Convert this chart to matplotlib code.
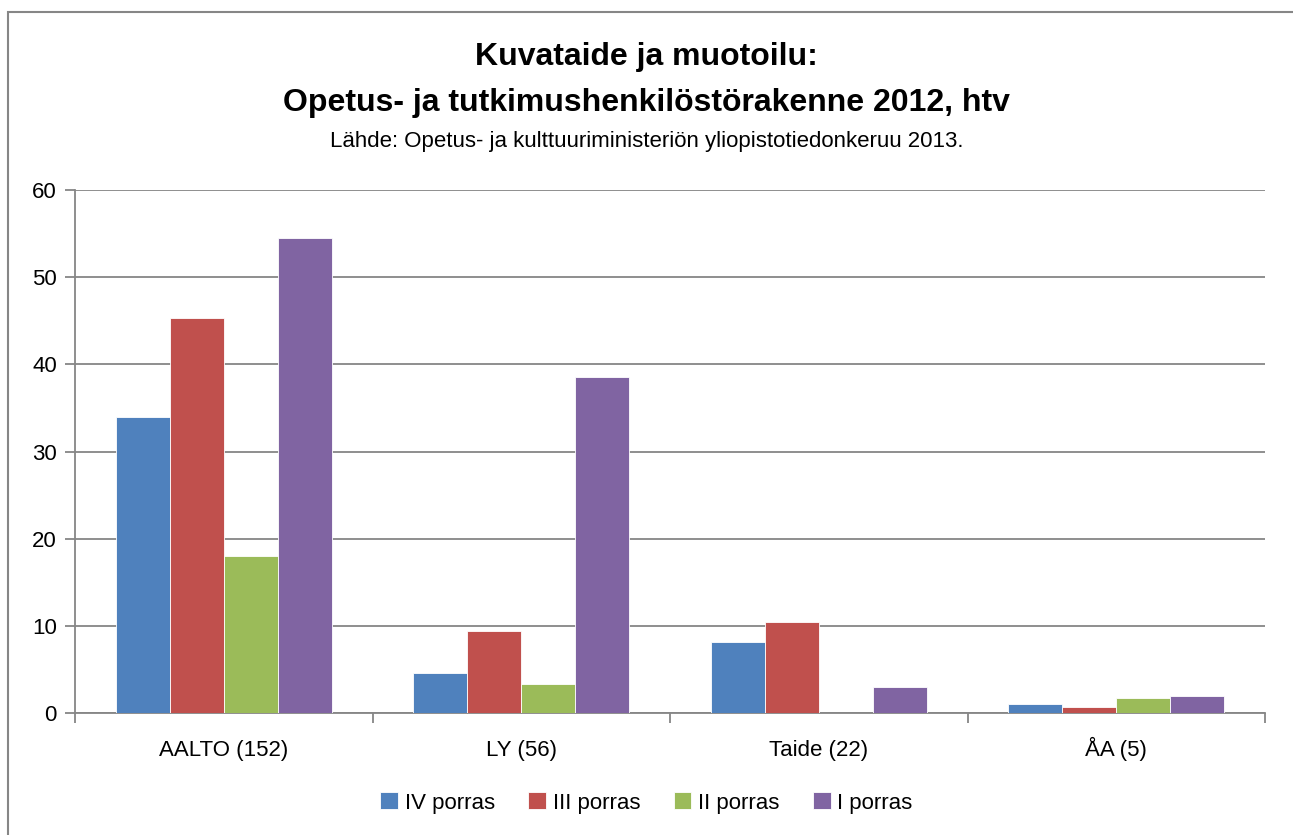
import numpy as np
import matplotlib
matplotlib.use("Agg")
import matplotlib.pyplot as plt
from matplotlib.patches import Rectangle

# data
categories = ["AALTO (152)", "LY (56)", "Taide (22)", "ÅA (5)"]
series_names = ["IV porras", "III porras", "II porras", "I porras"]
iv_porras = [34.0, 4.6, 8.1, 1.0]
iii_porras = [45.3, 9.4, 10.4, 0.7]
ii_porras = [18.0, 3.3, 0.0, 1.7]
i_porras = [54.5, 38.6, 3.0, 2.0]
colors = ["#4F81BD", "#C0504D", "#9BBB59", "#8064A2"]

plt.rcParams['font.family'] = ['Liberation Sans', 'DejaVu Sans']

fig = plt.figure(figsize=(12.93, 8.35), dpi=100)
ax = fig.add_axes([75/1293, 1 - 713/835, (1265 - 75)/1293, (713 - 190)/835])

# chart border (Excel style)
fig.add_artist(Rectangle((8/1293, -0.01), 1.1, (835 - 12)/835 + 0.01,
                         transform=fig.transFigure, fill=False,
                         edgecolor="#868686", linewidth=1.5))

x = np.arange(len(categories))
width = 1 / 5.5
all_series = [iv_porras, iii_porras, ii_porras, i_porras]
for i, (vals, name) in enumerate(zip(all_series, series_names)):
    ax.bar(x + (i - 1.5) * width, vals, width, color=colors[i], label=name,
           edgecolor="white", linewidth=0.6, zorder=3)

ax.set_xlim(-0.5, len(categories) - 0.5)
ax.set_ylim(0, 60)
ax.set_yticks(range(0, 61, 10))
ax.yaxis.grid(True, color="#868686", linewidth=1.3, zorder=0)
ax.set_axisbelow(True)

for s in ["top", "right"]:
    ax.spines[s].set_visible(False)
for s in ["left", "bottom"]:
    ax.spines[s].set_color("#868686")
    ax.spines[s].set_linewidth(1.3)

ax.set_xticks(x)
ax.set_xticklabels(categories, fontsize=16, va="baseline")
ax.tick_params(axis="x", length=0, pad=31)
ax.set_xticks(np.arange(-0.5, len(categories)), minor=True)
ax.tick_params(axis="x", which="minor", length=7, color="#868686", width=1.3)
ax.tick_params(axis="y", length=7, color="#868686", width=1.3, labelsize=16, pad=6)

fig.text(0.5, 1 - 57/835, "Kuvataide ja muotoilu:", ha="center", va="center",
         fontsize=23, fontweight="bold")
fig.text(0.5, 1 - 103/835, "Opetus- ja tutkimushenkilöstörakenne 2012, htv",
         ha="center", va="center", fontsize=23, fontweight="bold")
fig.text(0.5, 1 - 142/835, "Lähde: Opetus- ja kulttuuriministeriön yliopistotiedonkeruu 2013.",
         ha="center", va="center", fontsize=16)

fig.legend(loc="center", bbox_to_anchor=(0.5, 1 - 803/835), ncol=4, frameon=False,
           fontsize=16, handlelength=0.8, handleheight=0.8, handletextpad=0.3,
           columnspacing=1.5)

fig.savefig("out.png", dpi=100)
